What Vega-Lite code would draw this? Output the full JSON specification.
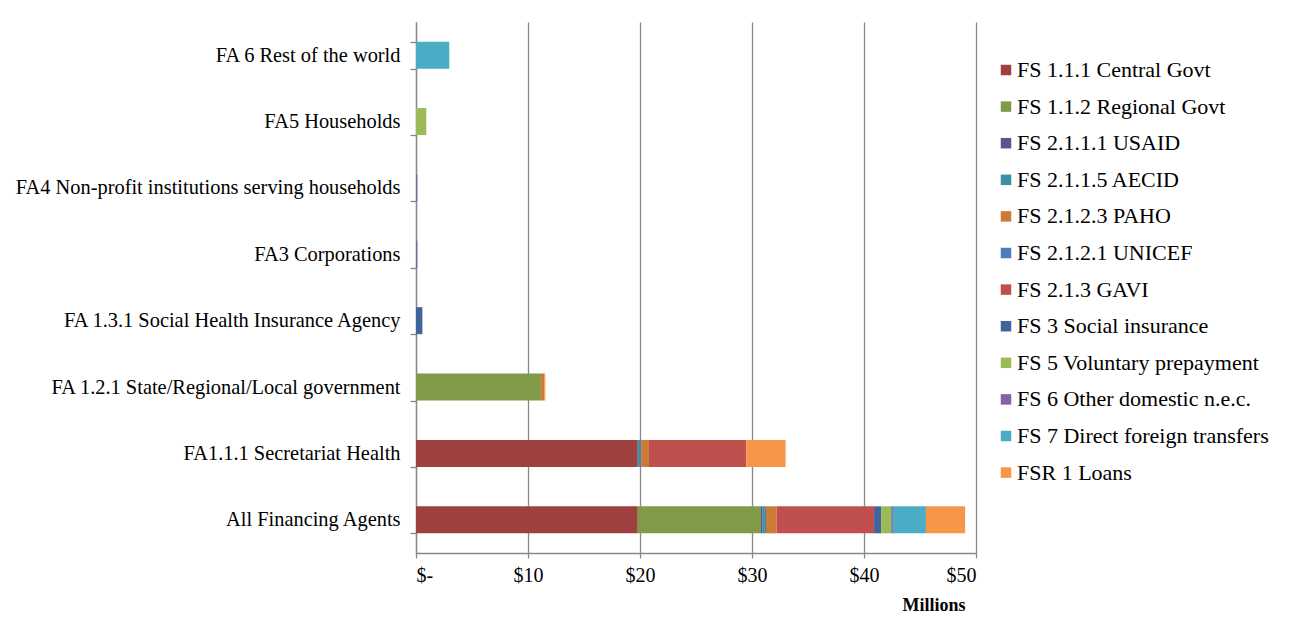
{
  "$schema": "https://vega.github.io/schema/vega-lite/v6.json",
  "width": 560,
  "height": 531,
  "autosize": {"type": "none"},
  "padding": {"left": 416, "top": 22, "right": 318, "bottom": 87},
  "background": "white",
  "config": {
    "view": {"stroke": null},
    "font": "Liberation Serif, DejaVu Serif, serif"
  },
  "data": {
    "values": [
      {"agent": "All Financing Agents", "source": "FS 1.1.1 Central Govt", "value": 19.8},
      {"agent": "All Financing Agents", "source": "FS 1.1.2 Regional Govt", "value": 11.0},
      {"agent": "All Financing Agents", "source": "FS 2.1.1.1 USAID", "value": 0.15},
      {"agent": "All Financing Agents", "source": "FS 2.1.1.5 AECID", "value": 0.2},
      {"agent": "All Financing Agents", "source": "FS 2.1.2.3 PAHO", "value": 0.95},
      {"agent": "All Financing Agents", "source": "FS 2.1.2.1 UNICEF", "value": 0.1},
      {"agent": "All Financing Agents", "source": "FS 2.1.3 GAVI", "value": 8.7},
      {"agent": "All Financing Agents", "source": "FS 3 Social insurance", "value": 0.63},
      {"agent": "All Financing Agents", "source": "FS 5 Voluntary prepayment", "value": 0.9},
      {"agent": "All Financing Agents", "source": "FS 6 Other domestic n.e.c.", "value": 0.15},
      {"agent": "All Financing Agents", "source": "FS 7 Direct foreign transfers", "value": 2.95},
      {"agent": "All Financing Agents", "source": "FSR 1 Loans", "value": 3.5},
      {"agent": "FA1.1.1 Secretariat Health", "source": "FS 1.1.1 Central Govt", "value": 19.8},
      {"agent": "FA1.1.1 Secretariat Health", "source": "FS 2.1.1.5 AECID", "value": 0.2},
      {"agent": "FA1.1.1 Secretariat Health", "source": "FS 2.1.2.3 PAHO", "value": 0.7},
      {"agent": "FA1.1.1 Secretariat Health", "source": "FS 2.1.2.1 UNICEF", "value": 0.1},
      {"agent": "FA1.1.1 Secretariat Health", "source": "FS 2.1.3 GAVI", "value": 8.7},
      {"agent": "FA1.1.1 Secretariat Health", "source": "FSR 1 Loans", "value": 3.5},
      {"agent": "FA 1.2.1 State/Regional/Local government", "source": "FS 1.1.2 Regional Govt", "value": 11.15},
      {"agent": "FA 1.2.1 State/Regional/Local government", "source": "FS 2.1.2.3 PAHO", "value": 0.3},
      {"agent": "FA 1.2.1 State/Regional/Local government", "source": "FSR 1 Loans", "value": 0.1},
      {"agent": "FA 1.3.1 Social Health Insurance Agency", "source": "FS 3 Social insurance", "value": 0.57},
      {"agent": "FA3 Corporations", "source": "FS 6 Other domestic n.e.c.", "value": 0.12},
      {"agent": "FA4 Non-profit institutions serving households", "source": "FS 6 Other domestic n.e.c.", "value": 0.12},
      {"agent": "FA5 Households", "source": "FS 5 Voluntary prepayment", "value": 0.92},
      {"agent": "FA 6 Rest of the world", "source": "FS 7 Direct foreign transfers", "value": 2.97}
    ]
  },
  "mark": {"type": "bar", "strokeWidth": 0},
  "encoding": {
    "y": {
      "field": "agent",
      "type": "nominal",
      "sort": [
        "FA 6 Rest of the world",
        "FA5 Households",
        "FA4 Non-profit institutions serving households",
        "FA3 Corporations",
        "FA 1.3.1 Social Health Insurance Agency",
        "FA 1.2.1 State/Regional/Local government",
        "FA1.1.1 Secretariat Health",
        "All Financing Agents"
      ],
      "scale": {"paddingInner": 0.593, "paddingOuter": 0.2965},
      "axis": {
        "title": null,
        "tickBand": "extent",
        "grid": false,
        "domainColor": "#888888",
        "domainWidth": 1.3,
        "tickColor": "#888888",
        "tickWidth": 1.3,
        "tickSize": 6,
        "labelPadding": 10,
        "labelFont": "Liberation Serif, DejaVu Serif, serif",
        "labelFontSize": 20.4,
        "labelColor": "#000000",
        "labelLimit": 500
      }
    },
    "x": {
      "field": "value",
      "type": "quantitative",
      "stack": "zero",
      "scale": {"domain": [0, 50], "nice": false},
      "axis": {
        "values": [0, 10, 20, 30, 40, 50],
        "labelExpr": "datum.value == 0 ? '$-' : '$' + datum.value",
        "grid": true,
        "gridColor": "#888888",
        "gridWidth": 1.3,
        "domainColor": "#888888",
        "domainWidth": 1.3,
        "tickColor": "#888888",
        "tickWidth": 1.3,
        "tickSize": 5,
        "labelPadding": 7,
        "labelFont": "Liberation Serif, DejaVu Serif, serif",
        "labelFontSize": 20,
        "labelColor": "#000000",
        "title": "Millions",
        "titleFont": "Liberation Serif, DejaVu Serif, serif",
        "titleFontSize": 18,
        "titleFontWeight": "bold",
        "titleColor": "#000000",
        "titleAlign": "right",
        "titleAnchor": "end",
        "titleX": 549,
        "titleY": 52,
        "titleBaseline": "middle"
      }
    },
    "color": {
      "field": "source",
      "type": "nominal",
      "sort": [
        "FS 1.1.1 Central Govt",
        "FS 1.1.2 Regional Govt",
        "FS 2.1.1.1 USAID",
        "FS 2.1.1.5 AECID",
        "FS 2.1.2.3 PAHO",
        "FS 2.1.2.1 UNICEF",
        "FS 2.1.3 GAVI",
        "FS 3 Social insurance",
        "FS 5 Voluntary prepayment",
        "FS 6 Other domestic n.e.c.",
        "FS 7 Direct foreign transfers",
        "FSR 1 Loans"
      ],
      "scale": {
        "domain": [
          "FS 1.1.1 Central Govt",
          "FS 1.1.2 Regional Govt",
          "FS 2.1.1.1 USAID",
          "FS 2.1.1.5 AECID",
          "FS 2.1.2.3 PAHO",
          "FS 2.1.2.1 UNICEF",
          "FS 2.1.3 GAVI",
          "FS 3 Social insurance",
          "FS 5 Voluntary prepayment",
          "FS 6 Other domestic n.e.c.",
          "FS 7 Direct foreign transfers",
          "FSR 1 Loans"
        ],
        "range": ["#9E413E", "#7F9B48", "#64508C", "#3B8FA6", "#CD7A37", "#4A7EBB", "#C0504D", "#40659A", "#9BBB59", "#8064A2", "#4BACC6", "#F79646"]
      },
      "legend": {
        "title": null,
        "orient": "none",
        "legendX": 579,
        "legendY": 37,
        "symbolType": "square",
        "symbolSize": 110,
        "symbolStrokeWidth": 0,
        "labelFont": "Liberation Serif, DejaVu Serif, serif",
        "labelFontSize": 22,
        "labelColor": "#000000",
        "labelOffset": 0,
        "rowPadding": 14.6,
        "labelLimit": 400
      }
    }
  }
}
